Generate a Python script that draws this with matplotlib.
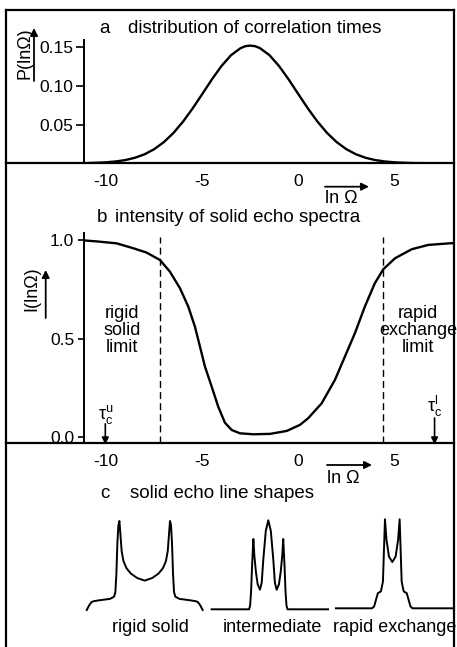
import matplotlib
matplotlib.use("Agg")
import matplotlib.pyplot as plt
from matplotlib.lines import Line2D
from matplotlib.patches import FancyArrowPatch

plt.rcParams['font.family'] = ['Liberation Sans', 'DejaVu Sans']
plt.rcParams['mathtext.default'] = 'regular'
plt.rcParams['axes.unicode_minus'] = False

# ---- data ----
# a: distribution of correlation times P(ln Omega)
a_lnw = [-11, -10.5, -10, -9.5, -9, -8.5, -8, -7.5, -7, -6.5, -6, -5.5, -5, -4.5,
         -4, -3.5, -3, -2.75, -2.5, -2.25, -2, -1.5, -1, -0.5, 0, 0.5, 1, 1.5, 2,
         2.5, 3, 3.5, 4, 4.5, 5, 5.5, 6, 6.5, 7, 7.5, 8]
a_P = [0.0003, 0.0007, 0.0013, 0.0024, 0.0042, 0.0072, 0.0117, 0.0183, 0.0274,
       0.0392, 0.0539, 0.0709, 0.0895, 0.1083, 0.1256, 0.1397, 0.1488, 0.1513,
       0.152, 0.1513, 0.1488, 0.1397, 0.1256, 0.1083, 0.0895, 0.0709, 0.0539,
       0.0392, 0.0274, 0.0183, 0.0117, 0.0072, 0.0042, 0.0024, 0.0013, 0.0007,
       0.0003, 0.0002, 0.0001, 0.0, 0.0]
a_yticks = [0.05, 0.10, 0.15]
a_yticklabels = ['0.05', '0.10', '0.15']

# b: intensity of solid echo spectra I(ln Omega)
b_lnw = [-11.16, -10.5, -9.46, -8.59, -7.9, -7.2, -6.68, -6.16, -5.73, -5.38, -5.12,
         -4.86, -4.51, -4.17, -3.82, -3.47, -3.04, -2.34, -1.47, -0.6, 0.09, 0.52,
         1.22, 1.91, 2.43, 2.95, 3.47, 3.99, 4.43, 5.04, 5.91, 6.77, 8.0]
b_I = [1.0, 0.995, 0.985, 0.96, 0.938, 0.90, 0.84, 0.756, 0.663, 0.56, 0.459,
       0.357, 0.255, 0.153, 0.071, 0.034, 0.017, 0.012, 0.014, 0.029, 0.06, 0.094,
       0.17, 0.289, 0.408, 0.527, 0.663, 0.782, 0.853, 0.909, 0.955, 0.977, 0.986]
b_yticks = [0.0, 0.5, 1.0]
b_yticklabels = ['0.0', '0.5', '1.0']
limits = [-7.2, 4.43]
tau_u, tau_l = -10.05, 7.1

x_ticks = [-10, -5, 0, 5]
x_ticklabels = ['-10', '-5', '0', '5']

# c: solid echo line shapes (frequency in units of horn splitting, intensity)
rigid_nu = [-2.29, -2.2, -2.1, -2.0, -1.77, -1.37, -1.21, -1.16, -1.12, -1.08, -1.04,
            -1.0, -0.96, -0.91, -0.84, -0.72, -0.55, -0.3, 0.0, 0.3, 0.55, 0.72,
            0.84, 0.91, 0.96, 1.0, 1.04, 1.08, 1.12, 1.16, 1.21, 1.37, 1.77, 2.0,
            2.1, 2.2, 2.29]
rigid_I = [0.0, 0.05, 0.09, 0.10, 0.11, 0.125, 0.15, 0.2, 0.4, 0.75, 0.95,
           1.0, 0.85, 0.66, 0.55, 0.47, 0.41, 0.36, 0.33, 0.36, 0.41, 0.47,
           0.55, 0.66, 0.85, 1.0, 0.95, 0.75, 0.4, 0.2, 0.15, 0.125, 0.11, 0.10,
           0.09, 0.05, 0.0]
inter_nu = [-2.24, -0.76, -0.72, -0.68, -0.64, -0.59, -0.55, -0.49, -0.42, -0.33,
            -0.26, -0.2, -0.1, 0.0, 0.1, 0.2, 0.26, 0.33, 0.42, 0.49, 0.55, 0.59,
            0.64, 0.68, 0.72, 0.76, 2.36]
inter_I = [0.0, 0.0, 0.04, 0.2, 0.5, 0.79, 0.6, 0.42, 0.28, 0.22,
           0.3, 0.55, 0.88, 1.0, 0.88, 0.55, 0.3, 0.22, 0.28, 0.42, 0.6, 0.79,
           0.5, 0.2, 0.04, 0.0, 0.0]
rapid_nu = [-2.23, -0.8, -0.72, -0.64, -0.57, -0.45, -0.37, -0.33, -0.29, -0.23,
            -0.13, 0.0, 0.13, 0.23, 0.29, 0.33, 0.37, 0.45, 0.57, 0.64, 0.72, 0.8, 2.4]
rapid_I = [0.0, 0.0, 0.02, 0.1, 0.17, 0.19, 0.3, 0.65, 1.0, 0.77,
           0.58, 0.52, 0.58, 0.77, 1.0, 0.65, 0.3, 0.19, 0.17, 0.1, 0.02, 0.0, 0.0]

# ---- layout helpers (pixel positions on the 457x647 canvas) ----
W, H = 457, 647
fig = plt.figure(figsize=(W / 100, H / 100), dpi=100)


def fx(px):
    return px / W


def fy(py):
    return 1 - py / H


def box(left, top, right, bottom):
    return [fx(left), fy(bottom), fx(right) - fx(left), fy(top) - fy(bottom)]


def fig_line(x0, y0, x1, y1, lw=1.6):
    fig.add_artist(Line2D([fx(x0), fx(x1)], [fy(y0), fy(y1)],
                          transform=fig.transFigure, color='black', lw=lw))


def fig_arrow(x0, y0, x1, y1):
    fig.add_artist(FancyArrowPatch((fx(x0), fy(y0)), (fx(x1), fy(y1)),
                                   transform=fig.transFigure, arrowstyle='-|>',
                                   mutation_scale=11, color='black', lw=1.3,
                                   shrinkA=0, shrinkB=0))


# frame and panel dividers
fig_line(6, 10, 454, 10)
fig_line(6, 10, 6, 660)
fig_line(454, 10, 454, 660)
fig_line(6, 163.3, 454, 163.3)
fig_line(6, 443.3, 454, 443.3)

XLIM = (-11.16, 8.06)

# ---- panel a ----
axa = fig.add_axes(box(84, 10, 453, 163.3))
axa.patch.set_visible(False)
axa.plot(a_lnw, a_P, color='black', lw=1.7)
axa.set_xlim(*XLIM)
axa.set_ylim(0, 0.198)
for s in ['top', 'right', 'bottom']:
    axa.spines[s].set_visible(False)
axa.spines['left'].set_bounds(0, 0.1595)
axa.spines['left'].set_linewidth(1.4)
axa.set_yticks(a_yticks)
axa.set_yticklabels(a_yticklabels)
axa.set_xticks(x_ticks)
axa.set_xticklabels(x_ticklabels)
axa.tick_params(axis='x', length=0, pad=8, labelsize=12.5)
axa.tick_params(axis='y', length=6, width=1.2, pad=2, labelsize=12.5)

fig.text(fx(105), fy(33), 'a', ha='center', va='baseline', fontsize=13.5)
fig.text(fx(128), fy(33), 'distribution of correlation times', ha='left',
         va='baseline', fontsize=13.5)
fig.text(fx(25), fy(53), 'P(lnΩ)', rotation=90, ha='center', va='center', fontsize=13)
fig_arrow(34, 81, 34, 28)
fig_arrow(325, 186.7, 369, 186.7)
fig.text(fx(325), fy(203), 'ln Ω', ha='left', va='baseline', fontsize=13)

# ---- panel b ----
axb = fig.add_axes(box(84, 163.3, 453, 443.3))
axb.patch.set_visible(False)
axb.plot(b_lnw, b_I, color='black', lw=1.7)
axb.vlines(limits, -0.034, 1.018, colors='black', lw=1.0, linestyles=(0, (5, 3)))
axb.set_xlim(*XLIM)
axb.set_ylim(-0.034, 1.393)
for s in ['top', 'right', 'bottom']:
    axb.spines[s].set_visible(False)
axb.spines['left'].set_bounds(-0.034, 1.038)
axb.spines['left'].set_linewidth(1.4)
axb.set_yticks(b_yticks)
axb.set_yticklabels(b_yticklabels)
axb.set_xticks(x_ticks)
axb.set_xticklabels(x_ticklabels)
axb.tick_params(axis='x', length=0, pad=8, labelsize=12.5)
axb.tick_params(axis='y', length=4, width=1.2, pad=3, labelsize=12.5)

axb.text(-9.18, 0.539, 'rigid\nsolid\nlimit', ha='center', va='center',
         fontsize=13, linespacing=1.0)
axb.text(6.25, 0.539, 'rapid\nexchange\nlimit', ha='center', va='center',
         fontsize=13, linespacing=1.0, clip_on=False)
axb.text(tau_u, 0.09, r'$τ_c^u$', ha='center', va='baseline', fontsize=13)
axb.text(tau_l, 0.127, r'$τ_c^l$', ha='center', va='baseline', fontsize=13)
for tx, ty in [(tau_u, 0.065), (tau_l, 0.095)]:
    axb.annotate('', xy=(tx, -0.04), xytext=(tx, ty), annotation_clip=False,
                 arrowprops=dict(arrowstyle='-|>', color='black', lw=1.2,
                                 mutation_scale=10, shrinkA=0, shrinkB=0))

fig.text(fx(102), fy(221.7), 'b', ha='center', va='baseline', fontsize=13.5)
fig.text(fx(115), fy(221.7), 'intensity of solid echo spectra', ha='left',
         va='baseline', fontsize=13.5)
fig.text(fx(32), fy(289), 'I(lnΩ)', rotation=90, ha='center', va='center', fontsize=13)
fig_arrow(45.7, 318, 45.7, 270)
fig_arrow(327, 465, 372, 465)
fig.text(fx(327), fy(483.3), 'ln Ω', ha='left', va='baseline', fontsize=13)

# ---- panel c ----
fig.text(fx(105), fy(498.3), 'c', ha='center', va='baseline', fontsize=13.5)
fig.text(fx(130), fy(498.3), 'solid echo line shapes', ha='left', va='baseline',
         fontsize=13.5)

NU_PX, I_PX = 25.3, 89.0
shapes = [(144.7, 610.0, rigid_nu, rigid_I, 'rigid solid', 150),
          (268.3, 609.3, inter_nu, inter_I, 'intermediate', 272),
          (392.3, 608.3, rapid_nu, rapid_I, 'rapid exchange', 395)]
for cx, base, nu, inten, label, lx in shapes:
    ax = fig.add_axes(box(cx - 2.5 * NU_PX, base - 1.1 * I_PX,
                          cx + 2.5 * NU_PX, base + 0.1 * I_PX))
    ax.plot(nu, inten, color='black', lw=1.4)
    ax.set_xlim(-2.5, 2.5)
    ax.set_ylim(-0.1, 1.1)
    ax.axis('off')
    fig.text(fx(lx), fy(631.7), label, ha='center', va='baseline', fontsize=13)

fig.savefig('out.png', dpi=100, facecolor='white')
